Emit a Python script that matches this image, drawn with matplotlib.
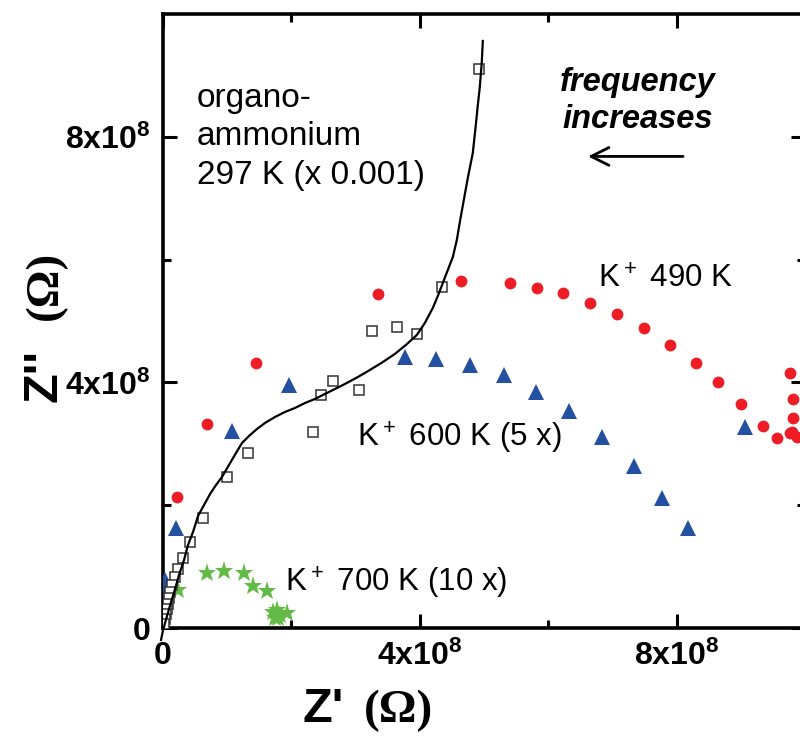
import numpy as np
import matplotlib
matplotlib.use('Agg')
import matplotlib.pyplot as plt

plt.rcParams['font.family'] = ['Liberation Sans', 'DejaVu Sans']
plt.rcParams['mathtext.fontset'] = 'custom'
plt.rcParams['mathtext.default'] = 'regular'

# all impedance values in units of 1e8 Ohm
# organo-ammonium 297 K (x 0.001)
org_x = [4.92, 4.34, 3.95, 3.64, 3.25, 3.05, 2.65, 2.46, 2.33, 1.32, 1.00, 0.62,
         0.42, 0.31, 0.23, 0.19, 0.14, 0.11, 0.09, 0.08, 0.06, 0.05, 0.03, 0.02]
org_y = [9.10, 5.55, 4.78, 4.90, 4.84, 3.88, 4.02, 3.79, 3.19, 2.85, 2.46, 1.79,
         1.40, 1.14, 0.96, 0.83, 0.70, 0.59, 0.49, 0.39, 0.31, 0.23, 0.15, 0.07]

# fitted curve for organo-ammonium
fit_x = [-0.031, 0.000, 0.062, 0.125, 0.187, 0.249, 0.327, 0.389, 0.467, 0.545,
         0.638, 0.732, 0.825, 0.918, 1.027, 1.136, 1.230, 1.339, 1.463, 1.588,
         1.743, 1.899, 2.054, 2.210, 2.366, 2.521, 2.646, 2.833, 3.035, 3.222,
         3.424, 3.611, 3.782, 3.953, 4.078, 4.202, 4.280, 4.358, 4.436, 4.514,
         4.576, 4.623, 4.685, 4.747, 4.825, 4.872, 4.903, 4.934, 4.965, 4.981]
fit_y = [-0.195, -0.033, 0.195, 0.423, 0.635, 0.863, 1.107, 1.352, 1.564, 1.824,
         2.003, 2.182, 2.329, 2.459, 2.655, 2.850, 3.013, 3.127, 3.241, 3.339,
         3.436, 3.518, 3.583, 3.664, 3.730, 3.811, 3.876, 3.974, 4.088, 4.202,
         4.332, 4.463, 4.609, 4.772, 4.967, 5.212, 5.407, 5.619, 5.831, 6.042,
         6.319, 6.612, 6.971, 7.329, 7.736, 8.192, 8.518, 8.811, 9.218, 9.560]

# K+ 490 K
k490_x = [0.22, 0.68, 1.45, 3.35, 4.64, 5.40, 5.82, 6.23, 6.65, 7.07, 7.49, 7.89,
          8.30, 8.65, 9.01, 9.35, 9.57, 9.76, 9.81, 9.81, 9.79, 9.87, 9.76]
k490_y = [2.13, 3.32, 4.32, 5.44, 5.65, 5.62, 5.54, 5.46, 5.29, 5.11, 4.89, 4.61,
          4.32, 4.01, 3.65, 3.29, 3.09, 4.15, 3.73, 3.42, 3.19, 3.11, 3.18]

# K+ 600 K (5 x)
k600_x = [0.03, 0.03, 0.20, 1.07, 1.96, 3.77, 4.25, 4.78, 5.31, 5.81, 6.33, 6.83,
          7.33, 7.77, 8.17, 9.06]
k600_y = [0.78, 0.57, 1.63, 3.21, 3.96, 4.41, 4.38, 4.28, 4.12, 3.84, 3.53, 3.11,
          2.64, 2.12, 1.63, 3.27]

# K+ 700 K (10 x)
k700_x = [0.23, 0.68, 0.95, 1.26, 1.40, 1.62, 1.71, 1.74, 1.79, 1.82, 1.93, 1.77]
k700_y = [0.62, 0.90, 0.93, 0.90, 0.68, 0.60, 0.26, 0.16, 0.16, 0.21, 0.24, 0.29]

ticks = [0, 4, 8]
tick_labels = ['0', '4x10$^8$', '8x10$^8$']
minor_ticks = [2, 6]

s = 1e8
fig = plt.figure(figsize=(8, 7.39), dpi=100)
ax = fig.add_axes([0.2038, 0.1502, 0.8025, 0.8309])

ax.plot(np.array(k490_x) * s, np.array(k490_y) * s, 'o', color='#ee1c25',
        markersize=8.5, markeredgewidth=0, zorder=3)
ax.plot(np.array(k600_x) * s, np.array(k600_y) * s, '^', color='#2350a0',
        markersize=11, markeredgewidth=0, zorder=3)
ax.plot(np.array(k700_x) * s, np.array(k700_y) * s, '*', color='#62bb46',
        markersize=14, markeredgewidth=0, zorder=3)
ax.plot(np.array(org_x) * s, np.array(org_y) * s, 's', markerfacecolor='white',
        markeredgecolor='#333333', markeredgewidth=1.1, markersize=7.8, zorder=4)
ax.plot(np.array(fit_x) * s, np.array(fit_y) * s, '-', color='black', lw=1.6,
        zorder=5, clip_on=False)

ax.set_xlim(0, 10 * s)
ax.set_ylim(0, 10 * s)
ax.set_xticks([t * s for t in ticks], labels=tick_labels)
ax.set_yticks([t * s for t in ticks], labels=tick_labels)
ax.set_xticks([t * s for t in minor_ticks], minor=True)
ax.set_yticks([t * s for t in minor_ticks], minor=True)
ax.tick_params(which='both', direction='in', top=True, right=True, width=2.2,
               labelsize=23, pad=9)
ax.tick_params(which='major', length=10)
ax.tick_params(which='minor', length=6)
for lbl in ax.get_xticklabels() + ax.get_yticklabels():
    lbl.set_fontweight('bold')
for sp in ax.spines.values():
    sp.set_linewidth(2.6)

# axis titles: bold sans "Z'" followed by bold serif "(Ω)"
serif = ['Liberation Serif', 'DejaVu Serif']
fig.text(303 / 800, 1 - 722 / 739, "Z'", fontsize=35, fontweight='bold',
         ha='left', va='baseline')
fig.text(364 / 800, 1 - 722 / 739, '(\u03A9)', fontsize=34, fontweight='bold',
         family=serif, ha='left', va='baseline')
fig.text(57 / 800, 1 - 402 / 739, "Z''", fontsize=35, fontweight='bold',
         rotation=90, rotation_mode='anchor', ha='left', va='baseline')
fig.text(57 / 800, 1 - 320 / 739, '(\u03A9)', fontsize=34, fontweight='bold',
         family=serif, rotation=90, rotation_mode='anchor', ha='left',
         va='baseline')

ax.text(0.53 * s, 8.88 * s, 'organo-\nammonium\n297 K (x 0.001)', fontsize=24,
        va='top', ha='left', linespacing=1.32)
ax.text(7.39 * s, 9.13 * s, 'frequency\nincreases', fontsize=23.5,
        fontweight='bold', fontstyle='italic', va='top', ha='center',
        linespacing=1.22)
ax.annotate('', xy=(6.62 * s, 7.68 * s), xytext=(8.1 * s, 7.68 * s),
            arrowprops=dict(arrowstyle='->', lw=2, color='black',
                            mutation_scale=32, shrinkA=0, shrinkB=0))
ax.text(6.77 * s, 5.55 * s, 'K$^+$ 490 K', fontsize=22.5, va='baseline')
ax.text(3.02 * s, 2.95 * s, 'K$^+$ 600 K (5 x)', fontsize=22.5, va='baseline')
ax.text(1.90 * s, 0.59 * s, 'K$^+$ 700 K (10 x)', fontsize=22.5, va='baseline')

fig.savefig('out.png', dpi=100)
